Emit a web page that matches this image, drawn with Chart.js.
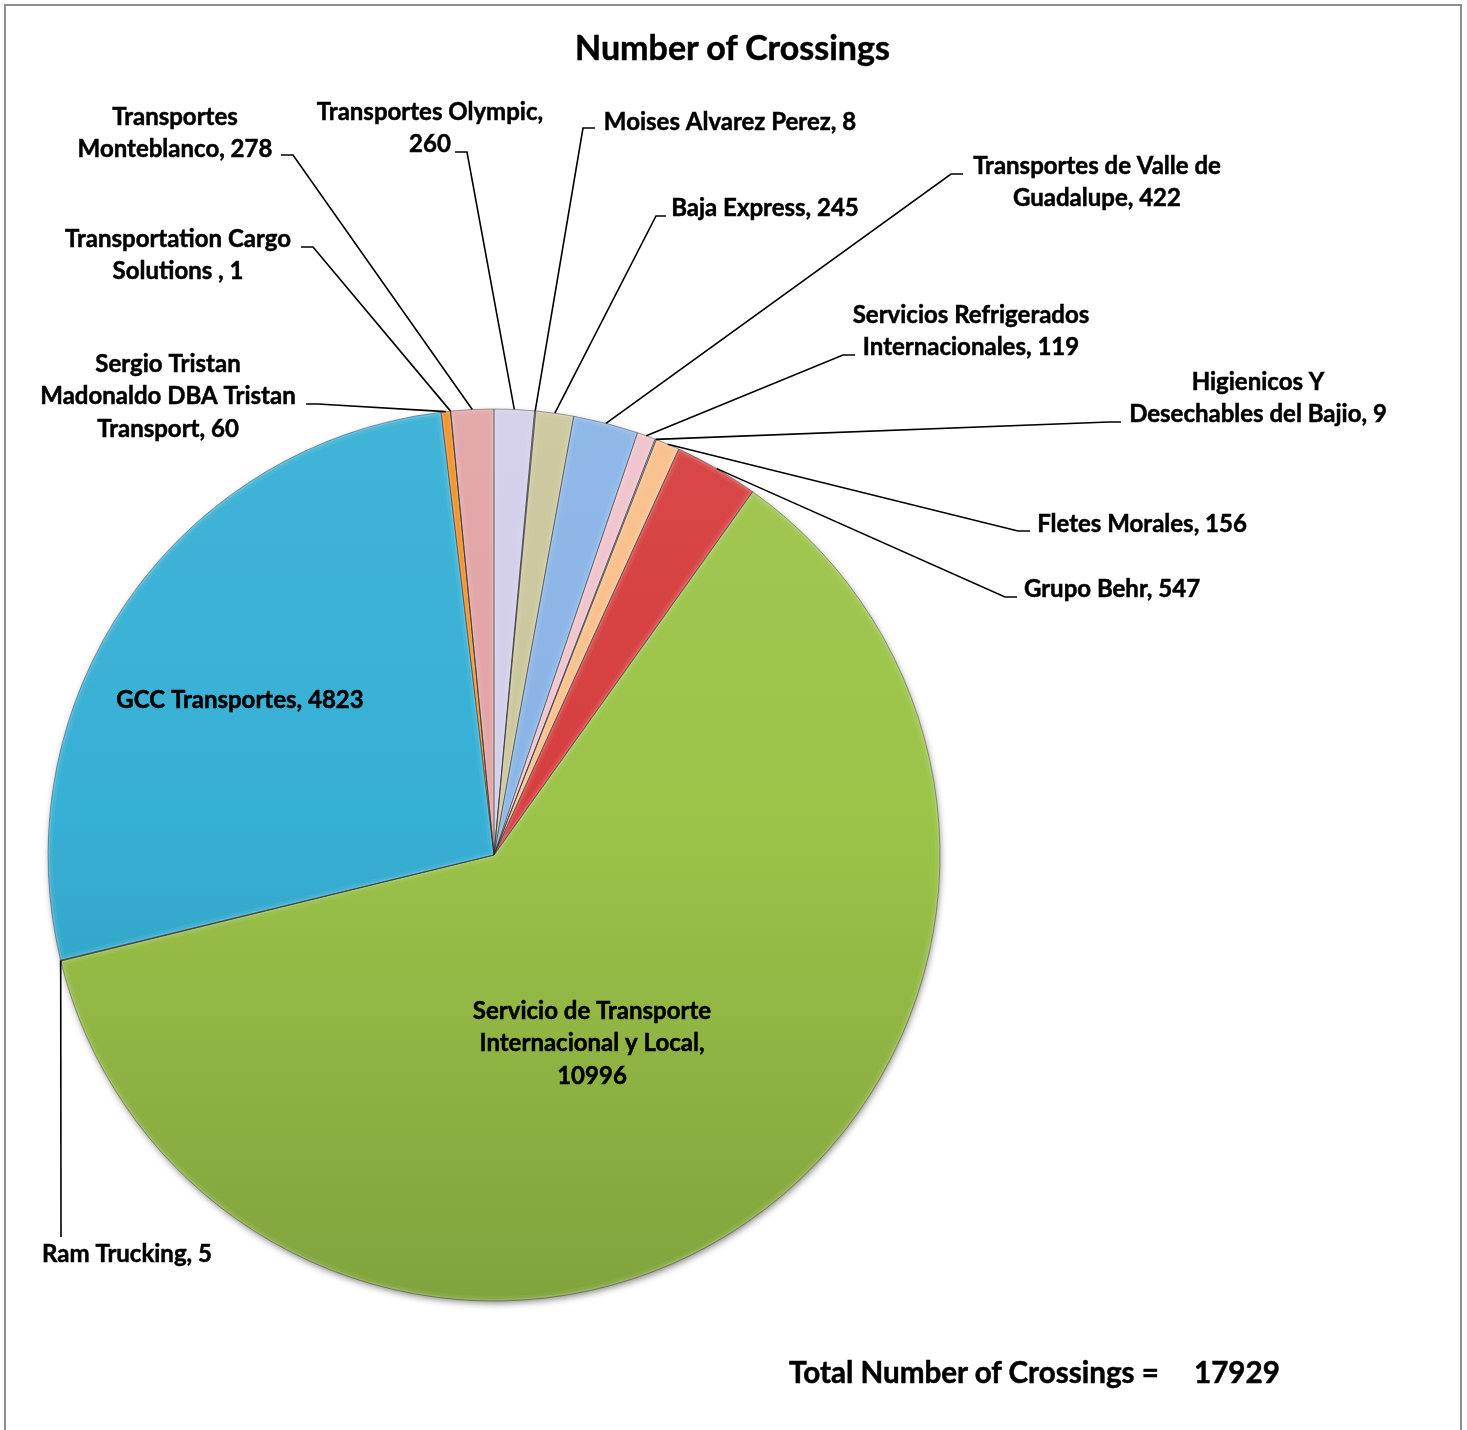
<!DOCTYPE html>
<html lang="en">
<head>
<meta charset="UTF-8">
<title>Number of Crossings</title>
<script src="https://cdn.jsdelivr.net/npm/chart.js"></script>
<style>
    body {
        margin: 0;
        background: #fff;
        font-family: Lato, "Open Sans", sans-serif;
        overflow: hidden;
    }
    .wrap {
        position: relative;
        width: 1467px;
        height: 1430px;
    }
    .frame {
        position: absolute;
        left: 4px;
        top: 4px;
        width: 1458px;
        height: 1460px;
        border: 2px solid #8e8e8e;
        box-sizing: border-box;
    }
    canvas {
        position: absolute;
        left: 0;
        top: 0;
    }
    .title {
        position: absolute;
        left: 0;
        top: 27px;
        width: 1465px;
        text-align: center;
        font-weight: bold;
        font-size: 34px;
        line-height: 40px;
        -webkit-text-stroke: 0.5px #000;
    }
    .total {
        position: absolute;
        top: 1354px;
        font-weight: bold;
        font-size: 29.6px;
        line-height: 36px;
        white-space: nowrap;
        -webkit-text-stroke: 0.5px #000;
    }
</style>
</head>
<body>
<div class="wrap">
    <div class="frame"></div>
    <canvas id="crossingsChart" width="1467" height="1430"></canvas>
    <div class="title">Number of Crossings</div>
    <div class="total" style="left:789px">Total Number of Crossings =</div>
    <div class="total" style="left:1194px">17929</div>
</div>

<script>
    // Carriers in pie order (clockwise from 12 o'clock)
    const carriers = [
        "Transportes Olympic",
        "Moises Alvarez Perez",
        "Baja Express",
        "Transportes de Valle de Guadalupe",
        "Servicios Refrigerados Internacionales",
        "Higienicos Y Desechables del Bajio",
        "Fletes Morales",
        "Grupo Behr",
        "Servicio de Transporte Internacional y Local",
        "Ram Trucking",
        "GCC Transportes",
        "Sergio Tristan Madonaldo DBA Tristan Transport",
        "Transportation Cargo Solutions ",
        "Transportes Monteblanco"
    ];

    const crossings = [260, 8, 245, 422, 119, 9, 156, 547, 10996, 5, 4823, 60, 1, 278];

    const sliceColors = [
        "#d3cfea", "#8c8c9c", "#cac69c", "#8ab4e6", "#f0c2cb", "#b3a2cc", "#f9bf8a",
        "#d63e3e", "#9cc449", "#7f7f7f", "#37b0d5", "#f08c1e", "#c0504d", "#e2a3a6"
    ];

    // label placement: text centre x, first line y, word breaks, leader elbow/end
    const labelLayout = [
        { x: 430, y: 112, breaks: [2], leader: [[467, 152], [455, 152]] },
        { x: 730, y: 122, breaks: [], leader: [[583, 128], [595, 128]] },
        { x: 765, y: 208, breaks: [], leader: [[656, 216], [666, 216]] },
        { x: 1097, y: 166, breaks: [4], leader: [[951, 174], [963, 174]] },
        { x: 971, y: 315, breaks: [2], leader: [[843, 355], [855, 355]] },
        { x: 1258, y: 382, breaks: [2], leader: [[1109, 422], [1121, 422]] },
        { x: 1142, y: 524, breaks: [], leader: [[1018, 531], [1030, 531]] },
        { x: 1112, y: 589, breaks: [], leader: [[1005, 597], [1017, 597]] },
        { x: 592, y: 1011, breaks: [3, 6], leader: null },
        { x: 127, y: 1254, breaks: [], leader: [[61, 1237], [61, 1237]] },
        { x: 240, y: 700, breaks: [], leader: null },
        { x: 168, y: 364, breaks: [2, 5], leader: [[318, 404], [306, 404]] },
        { x: 178, y: 239, breaks: [2], leader: [[313, 247], [301, 247]] },
        { x: 175, y: 117, breaks: [1], leader: [[293, 155], [281, 155]] }
    ];

    function shade(hex, amt) {
        const n = parseInt(hex.slice(1), 16);
        let r = (n >> 16) & 255, g = (n >> 8) & 255, b = n & 255;
        const t = amt < 0 ? 0 : 255, p = Math.abs(amt);
        r = Math.round(r + (t - r) * p);
        g = Math.round(g + (t - g) * p);
        b = Math.round(b + (t - b) * p);
        return `rgb(${r},${g},${b})`;
    }

    function wrapLabel(text, breaks) {
        const words = text.split(' ');
        const lines = [];
        let start = 0;
        breaks.concat([words.length]).forEach(b => {
            lines.push(words.slice(start, b).join(' '));
            start = b;
        });
        return lines;
    }

    // soft shadow under the whole pie
    const pieShadow = {
        id: 'pieShadow',
        beforeDatasetsDraw(chart) {
            const arc = chart.getDatasetMeta(0).data[0];
            if (!arc) return;
            const { x, y, outerRadius } = arc.getProps(['x', 'y', 'outerRadius'], true);
            const ctx = chart.ctx;
            ctx.save();
            ctx.shadowColor = 'rgba(0,0,0,0.5)';
            ctx.shadowBlur = 7;
            ctx.shadowOffsetX = 1;
            ctx.shadowOffsetY = 3;
            ctx.fillStyle = '#777';
            ctx.beginPath();
            ctx.arc(x, y, outerRadius - 1, 0, Math.PI * 2);
            ctx.fill();
            ctx.restore();
        }
    };

    // light inner bevel on each slice
    const bevel = {
        id: 'bevel',
        afterDatasetsDraw(chart) {
            const ctx = chart.ctx;
            chart.getDatasetMeta(0).data.forEach(arc => {
                const p = arc.getProps(['x', 'y', 'startAngle', 'endAngle', 'outerRadius'], true);
                ctx.save();
                ctx.beginPath();
                ctx.moveTo(p.x, p.y);
                ctx.arc(p.x, p.y, p.outerRadius, p.startAngle, p.endAngle);
                ctx.closePath();
                ctx.clip();
                ctx.lineJoin = 'round';
                ctx.lineWidth = 10;
                ctx.strokeStyle = 'rgba(255,255,255,0.06)';
                ctx.stroke();
                ctx.lineWidth = 4;
                ctx.strokeStyle = 'rgba(255,255,255,0.14)';
                ctx.stroke();
                ctx.restore();
                ctx.save();
                ctx.beginPath();
                ctx.moveTo(p.x, p.y);
                ctx.arc(p.x, p.y, p.outerRadius, p.startAngle, p.endAngle);
                ctx.closePath();
                ctx.lineWidth = 1;
                ctx.strokeStyle = 'rgba(40,40,40,0.4)';
                ctx.stroke();
                ctx.restore();
            });
        }
    };

    // data labels with leader lines
    const sliceLabels = {
        id: 'sliceLabels',
        afterDraw(chart) {
            const ctx = chart.ctx;
            const arcs = chart.getDatasetMeta(0).data;
            ctx.save();
            ctx.font = 'bold 24px Lato';
            ctx.fillStyle = '#000';
            ctx.textAlign = 'center';
            ctx.textBaseline = 'middle';
            labelLayout.forEach((lay, i) => {
                const arc = arcs[i];
                ctx.strokeStyle = '#000';
                if (lay.leader) {
                    const p = arc.getProps(['x', 'y', 'startAngle', 'endAngle', 'outerRadius'], true);
                    const mid = (p.startAngle + p.endAngle) / 2;
                    const ax = p.x + Math.cos(mid) * p.outerRadius;
                    const ay = p.y + Math.sin(mid) * p.outerRadius;
                    ctx.beginPath();
                    ctx.moveTo(ax, ay);
                    ctx.lineTo(lay.leader[0][0], lay.leader[0][1]);
                    ctx.lineTo(lay.leader[1][0], lay.leader[1][1]);
                    ctx.lineWidth = 1.6;
                    ctx.stroke();
                }
                const text = carriers[i] + ', ' + crossings[i];
                ctx.lineWidth = 0.5;
                wrapLabel(text, lay.breaks).forEach((line, j) => {
                    const ly = lay.y + j * 32.7;
                    ctx.fillText(line, lay.x, ly);
                    ctx.strokeText(line, lay.x, ly);
                });
            });
            ctx.restore();
        }
    };

    const ctx = document.getElementById('crossingsChart').getContext('2d');
    const crossingsChart = new Chart(ctx, {
        type: 'pie',
        data: {
            labels: carriers,
            datasets: [{
                data: crossings,
                backgroundColor: (c) => {
                    const base = sliceColors[c.dataIndex];
                    const area = c.chart.chartArea;
                    if (!area) return base;
                    const g = c.chart.ctx.createLinearGradient(0, area.top, 0, area.bottom);
                    g.addColorStop(0, shade(base, 0.05));
                    g.addColorStop(0.45, base);
                    g.addColorStop(1, shade(base, -0.17));
                    return g;
                },
                borderWidth: 0
            }]
        },
        options: {
            responsive: false,
            animation: false,
            layout: {
                padding: { left: 48, right: 527, top: 409, bottom: 129 }
            },
            plugins: {
                legend: { display: false },
                tooltip: { enabled: false }
            }
        },
        plugins: [pieShadow, bevel, sliceLabels]
    });
</script>
</body>
</html>
